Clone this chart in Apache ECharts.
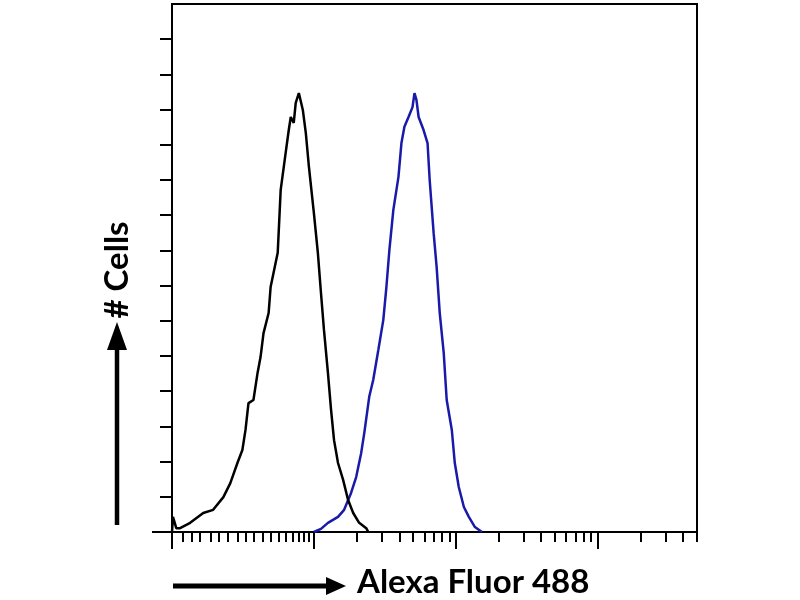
<!DOCTYPE html>
<html>
<head>
<meta charset="utf-8">
<script src="https://cdn.jsdelivr.net/npm/echarts@6/dist/echarts.min.js"></script>
<style>html,body{margin:0;padding:0;background:#fff}#c{width:800px;height:600px}</style>
</head>
<body>
<div id="c"></div>
<script>
// x values in log10 decades of Alexa Fluor 488 intensity, y in cell counts (axis units)
const isotypeX = [0, 0.007, 0.03, 0.057, 0.128, 0.22, 0.29, 0.362, 0.411, 0.461, 0.496, 0.518, 0.539, 0.574, 0.603, 0.624, 0.645, 0.681, 0.695, 0.745, 0.766, 0.801, 0.823, 0.837, 0.858, 0.872, 0.894, 0.922, 0.943, 0.965, 1.0, 1.028, 1.05, 1.071, 1.099, 1.121, 1.142, 1.17, 1.206, 1.241, 1.277, 1.319, 1.369, 1.383];
const isotypeY = [0, 0.43, 0.11, 0.11, 0.26, 0.54, 0.63, 0.99, 1.39, 1.96, 2.33, 2.90, 3.66, 3.75, 4.52, 4.97, 5.65, 6.22, 6.96, 7.93, 9.72, 10.77, 11.42, 11.79, 11.62, 12.19, 12.47, 11.99, 11.34, 10.37, 9.06, 7.93, 6.79, 5.74, 4.52, 3.47, 2.61, 1.96, 1.48, 0.91, 0.54, 0.26, 0.11, 0];
const stainedX = [1.0, 1.05, 1.099, 1.17, 1.213, 1.262, 1.298, 1.333, 1.355, 1.39, 1.418, 1.454, 1.489, 1.511, 1.532, 1.56, 1.596, 1.617, 1.638, 1.667, 1.695, 1.709, 1.723, 1.738, 1.773, 1.801, 1.816, 1.844, 1.865, 1.887, 1.915, 1.936, 1.972, 1.993, 2.021, 2.057, 2.092, 2.135, 2.184];
const stainedY = [0, 0.09, 0.26, 0.43, 0.63, 1.11, 1.56, 2.24, 2.81, 3.84, 4.32, 5.17, 6.02, 6.96, 8.01, 9.15, 10.09, 11.05, 11.51, 11.79, 12.07, 12.47, 12.27, 11.79, 11.42, 11.05, 10.0, 8.49, 7.53, 6.22, 5.09, 3.75, 2.90, 1.96, 1.28, 0.71, 0.43, 0.14, 0];
const majorTicks = [0, 1, 2, 3];
const minorTicks = [0.078, 0.142, 0.199, 0.270, 0.326, 0.390, 0.461, 0.518, 0.574, 0.638, 0.695, 0.752, 0.801, 0.851, 0.894, 0.929, 0.965,
  1.301, 1.477, 1.602, 1.699, 1.778, 1.845, 1.903, 1.954,
  2.301, 2.477, 2.602, 2.699, 2.778, 2.845, 2.903, 2.954,
  3.301, 3.477, 3.602, 3.699];
const yTicks = [1, 2, 3, 4, 5, 6, 7, 8, 9, 10, 11, 12, 13, 14];
const yZeroTick = [0];
const xLabel = 'Alexa Fluor 488';
const yLabel = '# Cells';

const pair = (xs, ys) => xs.map((x, i) => [x, ys[i]]);
const chart = echarts.init(document.getElementById('c'));
const font = 'Lato, "Open Sans", sans-serif';
const black = { color: '#000', width: 2 };
chart.setOption({
  animation: false,
  grid: { left: 172, right: 103, top: 4, bottom: 68, show: true, borderColor: '#000', borderWidth: 2 },
  xAxis: [
    { type: 'value', min: 0, max: 3.7, position: 'bottom',
      axisLine: { show: true, lineStyle: black },
      axisTick: { show: true, customValues: minorTicks, length: 10, lineStyle: black },
      axisLabel: { show: false }, splitLine: { show: false } },
    { type: 'value', min: 0, max: 3.7, position: 'bottom',
      axisLine: { show: false },
      axisTick: { show: true, customValues: majorTicks, length: 17, lineStyle: black },
      axisLabel: { show: false }, splitLine: { show: false } }
  ],
  yAxis: [
    { type: 'value', min: 0, max: 15, interval: 1, position: 'left',
      axisLine: { show: true, lineStyle: black },
      axisTick: { show: true, customValues: yTicks, length: 12, lineStyle: black },
      axisLabel: { show: false }, splitLine: { show: false } },
    { type: 'value', min: 0, max: 15, interval: 1, position: 'left',
      axisLine: { show: false },
      axisTick: { show: true, customValues: yZeroTick, length: 20, lineStyle: black },
      axisLabel: { show: false }, splitLine: { show: false } }
  ],
  series: [
    { type: 'line', data: pair(isotypeX, isotypeY), showSymbol: false, lineStyle: { color: '#000', width: 2.5 }, z: 3 },
    { type: 'line', data: pair(stainedX, stainedY), showSymbol: false, lineStyle: { color: '#1a1aaa', width: 2.5 }, z: 2 }
  ],
  graphic: [
    { type: 'line', shape: { x1: 173, y1: 586, x2: 330, y2: 586 }, style: { stroke: '#000', lineWidth: 5 } },
    { type: 'polygon', shape: { points: [[346, 586], [326, 577], [326, 595]] }, style: { fill: '#000' } },
    { type: 'text', left: 357, top: 566, style: { text: xLabel, font: 'bold 33px ' + font, fill: '#000' } },
    { type: 'line', shape: { x1: 117, y1: 525, x2: 117, y2: 345 }, style: { stroke: '#000', lineWidth: 4.5 } },
    { type: 'polygon', shape: { points: [[117, 322], [107, 350], [127, 350]] }, style: { fill: '#000' } },
    { type: 'text', x: 117, y: 270, rotation: Math.PI / 2, style: { text: yLabel, font: 'bold 33px ' + font, fill: '#000', align: 'center', verticalAlign: 'middle' } }
  ]
});
</script>
</body>
</html>
